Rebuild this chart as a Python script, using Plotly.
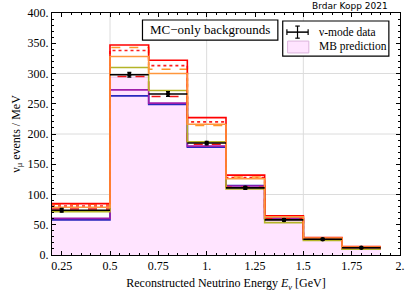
import plotly.graph_objects as go

# ---- data ----
edges = [0.2, 0.5, 0.7, 0.9, 1.1, 1.3, 1.5, 1.7, 1.9]
mb_pred = [58, 294, 249, 180, 110, 57, 25, 11]
data_x = [0.25, 0.6, 0.8, 1.0, 1.2, 1.4, 1.6, 1.8]
data_y = [74, 298, 266, 185, 111, 58, 26, 12]
data_err = [3, 4, 4, 3, 2.5, 2, 1.5, 1]

red_solid = [85, 347, 322, 227, 132, 65, 29, 14]
orange_dashed = [84, 343, 307, 214, 129, 64, 28.5, 13.5]
red_dotted = [81, 338, 313, 220, 128, 64, 28, 13.5]
orange_solid = [79, 328, 300, 216, 126, 63, 28, 13]
olive_solid = [71.5, 310, 272, 187, 109, 53.5, 24, 9.5]
red_dashed = [76, 295, 262, 183, 112, 60, 26, 11]
purple_solid = [60.5, 273, 251, 180, 114, 60, 26, 11]
blue_solid = [58, 263, 249, 178, 115, 61, 27, 11]

x_tickvals = [0.25, 0.5, 0.75, 1.0, 1.25, 1.5, 1.75, 2.0]
x_ticktext = ["0.25", "0.5", "0.75", "1.", "1.25", "1.5", "1.75", "2."]
y_tickvals = [0, 50, 100, 150, 200, 250, 300, 350, 400]
y_ticktext = ["0.", "50.", "100.", "150.", "200.", "250.", "300.", "350.", "400."]

SERIF = "Liberation Serif"


def step(vals):
    return vals + [vals[-1]]


fig = go.Figure()

# MB prediction filled histogram
fig.add_trace(go.Scatter(
    x=edges, y=step(mb_pred), mode="lines", line_shape="hv",
    line=dict(color="rgba(235,190,235,1)", width=1),
    fill="tozeroy", fillcolor="rgb(255,228,255)", showlegend=False))

lines = [
    (blue_solid, "rgb(40,40,190)", "solid"),
    (purple_solid, "rgb(160,30,170)", "solid"),
    (red_dashed, "rgb(240,20,20)", "dash"),
    (olive_solid, "rgb(180,180,40)", "solid"),
    (red_dotted, "rgb(255,30,30)", "dot"),
    (orange_dashed, "rgb(255,150,40)", "dash"),
    (red_solid, "rgb(255,0,0)", "solid"),
    (orange_solid, "rgb(255,150,60)", "solid"),
]
for vals, col, dash in lines:
    fig.add_trace(go.Scatter(
        x=edges, y=step(vals), mode="lines", line_shape="hv",
        line=dict(color=col, width=1.6, dash=dash), showlegend=False))

# data with bin-width horizontal bars
err_plus = [edges[i + 1] - data_x[i] for i in range(len(data_x))]
err_minus = [data_x[i] - edges[i] for i in range(len(data_x))]
fig.add_trace(go.Scatter(
    x=data_x, y=data_y, mode="markers",
    marker=dict(color="black", size=4.5),
    error_x=dict(type="data", array=err_plus, arrayminus=err_minus,
                 symmetric=False, color="black", thickness=1.6, width=0),
    error_y=dict(type="data", array=data_err, color="black",
                 thickness=1.2, width=2),
    showlegend=False))

shapes = []
# gridlines
for gx in [0.5, 1.0, 1.5]:
    shapes.append(dict(type="line", xref="x", yref="paper", x0=gx, x1=gx,
                       y0=0, y1=1, line=dict(color="rgb(220,220,220)", width=1),
                       layer="below"))
for gy in [100, 200, 300]:
    shapes.append(dict(type="line", xref="paper", yref="y", x0=0, x1=1,
                       y0=gy, y1=gy, line=dict(color="rgb(220,220,220)", width=1),
                       layer="below"))
# MC-only box
shapes.append(dict(type="rect", xref="paper", yref="paper", x0=0.26, x1=0.649,
                   y0=0.888, y1=0.971, line=dict(color="black", width=1.2),
                   fillcolor="white"))
# legend box
shapes.append(dict(type="rect", xref="paper", yref="paper", x0=0.663, x1=0.968,
                   y0=0.822, y1=0.967, line=dict(color="black", width=1.2),
                   fillcolor="white"))
# legend error-bar symbol
ly = 0.921
shapes.append(dict(type="line", xref="paper", yref="paper", x0=0.675, x1=0.736,
                   y0=ly, y1=ly, line=dict(color="black", width=1.5)))
shapes.append(dict(type="line", xref="paper", yref="paper", x0=0.7055, x1=0.7055,
                   y0=ly - 0.025, y1=ly + 0.025, line=dict(color="black", width=1.2)))
for cx in [0.675, 0.736]:
    shapes.append(dict(type="line", xref="paper", yref="paper", x0=cx, x1=cx,
                       y0=ly - 0.012, y1=ly + 0.012, line=dict(color="black", width=1.2)))
for cy in [ly - 0.025, ly + 0.025]:
    shapes.append(dict(type="line", xref="paper", yref="paper", x0=0.699, x1=0.712,
                       y0=cy, y1=cy, line=dict(color="black", width=1.2)))
# legend pink swatch
shapes.append(dict(type="rect", xref="paper", yref="paper", x0=0.677, x1=0.738,
                   y0=0.835, y1=0.884, line=dict(color="rgb(220,180,220)", width=1),
                   fillcolor="rgb(255,228,255)"))

annotations = [
    dict(text="MC\u2212only backgrounds", xref="paper", yref="paper", x=0.455, y=0.93,
         showarrow=False, font=dict(family=SERIF, size=13, color="black"),
         xanchor="center", yanchor="middle"),
    dict(text="\u03bd-mode data", xref="paper", yref="paper", x=0.762, y=0.922,
         showarrow=False, font=dict(family=SERIF, size=11.5, color="black"),
         xanchor="left", yanchor="middle"),
    dict(text="MB prediction", xref="paper", yref="paper", x=0.762, y=0.86,
         showarrow=False, font=dict(family=SERIF, size=11.5, color="black"),
         xanchor="left", yanchor="middle"),
    dict(text="Brdar Kopp 2021", xref="paper", yref="paper", x=0.972, y=1.0,
         showarrow=False, font=dict(family="DejaVu Sans", size=9, color="black"),
         xanchor="right", yanchor="bottom", yshift=0),
]

axis_common = dict(
    showgrid=False, zeroline=False, showline=True, linecolor="black", linewidth=1,
    mirror="allticks", ticks="inside", ticklen=4, tickwidth=1, tickcolor="black",
    tickfont=dict(family=SERIF, size=12, color="black"), automargin=False,
)

fig.update_layout(
    width=415, height=302,
    margin=dict(l=52, r=15, t=13, b=47),
    paper_bgcolor="white", plot_bgcolor="white",
    showlegend=False,
    shapes=shapes, annotations=annotations,
    xaxis=dict(range=[0.2, 2.0], tickmode="array", tickvals=x_tickvals,
               ticktext=x_ticktext,
               minor=dict(tick0=0.2, dtick=0.05, ticks="inside", ticklen=2,
                          tickcolor="black", showgrid=False),
               title=dict(text="Reconstructed Neutrino Energy <i>E<sub>\u03bd</sub></i> [GeV]",
                          font=dict(family=SERIF, size=12, color="black"), standoff=6),
               **axis_common),
    yaxis=dict(range=[0, 400], tickmode="array", tickvals=y_tickvals,
               ticktext=y_ticktext,
               minor=dict(tick0=0, dtick=10, ticks="inside", ticklen=2,
                          tickcolor="black", showgrid=False),
               title=dict(text="\u03bd<sub>\u03bc</sub> events / MeV",
                          font=dict(family=SERIF, size=12, color="black"), standoff=4),
               **axis_common),
)

fig.write_html("out.html", config={"displayModeBar": False},
               post_script="document.body.style.margin='0';")
